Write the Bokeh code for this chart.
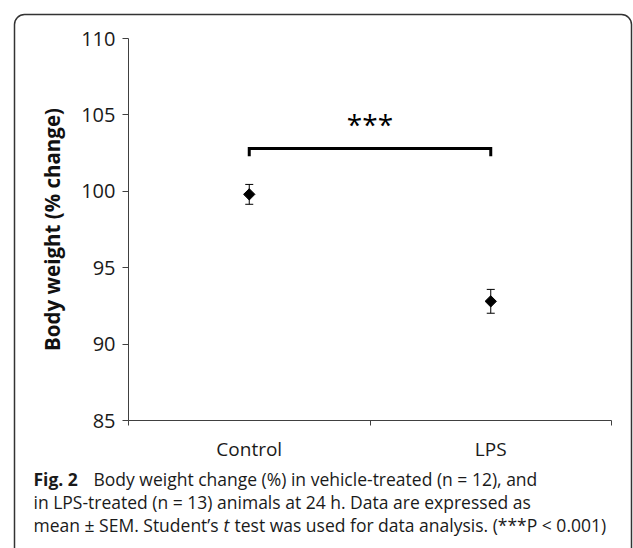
from math import pi
from bokeh.plotting import figure
from bokeh.models import (Range1d, FixedTicker, Whisker, ColumnDataSource, Label,
                          BoxAnnotation, LinearAxis)
from bokeh.core.properties import value
from bokeh.embed import file_html
from bokeh.resources import INLINE

# ---- data ----
categories = ["Control", "LPS"]
mean_change = [99.8, 92.8]
sem = [0.65, 0.78]
y_ticks = [85, 90, 95, 100, 105, 110]
bracket_low = 102.3
bracket_high = 102.8
star_level = 104.4
significance = "***"

x_pos = [i + 0.5 for i in range(len(categories))]
x_bounds = [i for i in range(len(categories) + 1)]
src = ColumnDataSource(dict(
    x=x_pos, y=mean_change,
    upper=[m + s for m, s in zip(mean_change, sem)],
    lower=[m - s for m, s in zip(mean_change, sem)],
    cat=categories,
))

# ---- layout (pixels on the canvas) ----
W, H = 633, 548
Y_TOP_PX, Y_BOT_PX = 38, 420      # where 110 and 85 sit
X_LEFT_PX, X_RIGHT_PX = 128, 611  # where the x axis starts and ends
ymin, ymax = y_ticks[0], y_ticks[-1]
ypp = (Y_BOT_PX - Y_TOP_PX) / (ymax - ymin)
xmin, xmax = x_bounds[0], x_bounds[-1]
xpp = (X_RIGHT_PX - X_LEFT_PX) / (xmax - xmin)

FONT = "Open Sans"
AX = "#404040"

p = figure(width=W, height=H, output_backend="svg", toolbar_location=None,
           x_axis_location=None, y_axis_location=None,
           x_range=Range1d(xmin - X_LEFT_PX / xpp, xmax + (W - X_RIGHT_PX) / xpp),
           y_range=Range1d(ymin - (H - Y_BOT_PX) / ypp, ymax + Y_TOP_PX / ypp),
           min_border=0)
p.grid.visible = False
p.outline_line_color = None
p.background_fill_color = "white"
p.border_fill_color = "white"

xa = LinearAxis(fixed_location=ymin, bounds=(xmin, xmax))
xa.ticker = FixedTicker(ticks=x_pos, minor_ticks=x_bounds)
xa.major_label_overrides = {x: c for x, c in zip(x_pos, categories)}
xa.major_tick_line_color = None
xa.major_tick_out = 5
xa.major_tick_in = 0
xa.minor_tick_out = 5
xa.minor_tick_in = 0
xa.minor_tick_line_color = AX
xa.axis_line_color = AX
xa.major_label_text_font = FONT
xa.major_label_text_font_size = "19px"
xa.major_label_text_color = "#1a1a1a"
xa.major_label_standoff = 10
p.add_layout(xa, "below")

ya = LinearAxis(fixed_location=xmin, bounds=(ymin, ymax))
ya.ticker = FixedTicker(ticks=y_ticks)
ya.minor_tick_line_color = None
ya.major_tick_out = 6
ya.major_tick_in = 0
ya.major_tick_line_color = AX
ya.axis_line_color = AX
ya.major_label_text_font = FONT
ya.major_label_text_font_size = "20px"
ya.major_label_text_color = "#1a1a1a"
ya.major_label_standoff = 7
ya.axis_label = "Body weight (% change)"
ya.axis_label_text_font = FONT
ya.axis_label_text_font_size = "20.5px"
ya.axis_label_text_font_style = "bold"
ya.axis_label_text_color = "#111111"
ya.axis_label_standoff = 12
p.add_layout(ya, "left")

w = Whisker(source=src, base="x", upper="upper", lower="lower",
            line_color="black", line_width=1)
w.upper_head.size = 8
w.lower_head.size = 8
w.upper_head.line_color = "black"
w.lower_head.line_color = "black"
p.add_layout(w)

p.scatter("x", "y", source=src, marker="square", angle=pi / 4, size=8,
          color="black")

p.line(x=[x_pos[0], x_pos[0], x_pos[1], x_pos[1]],
       y=[bracket_low, bracket_high, bracket_high, bracket_low],
       line_width=3, line_color="black", line_join="miter")

p.text(x=[sum(x_pos) / 2], y=[star_level], text=[significance],
       text_align="center", text_baseline="middle",
       text_font=value(FONT), text_font_size="28px", text_color="black")

# border box (screen units: y measured from the bottom)
p.add_layout(BoxAnnotation(left=14, right=631, top=H - 14, bottom=-40,
                           left_units="screen", right_units="screen",
                           top_units="screen", bottom_units="screen",
                           fill_color=None, fill_alpha=0,
                           line_color="#333333", line_alpha=1.0, line_width=1.5,
                           border_radius=10, level="overlay"))

# caption
CAP = 17.5
def cap(x, y_px, text, style="normal"):
    p.add_layout(Label(x=x, y=H - y_px, x_units="screen", y_units="screen", text=text,
                       text_font=FONT, text_font_size=f"{CAP}px", text_font_style=style,
                       text_color="#1a1a1a", text_baseline="middle", text_align="left"))

cap(33, 478, "Fig. 2", "bold")
cap(93, 478, "Body weight change (%) in vehicle-treated (n = 12), and")
cap(33, 501, "in LPS-treated (n = 13) animals at 24 h. Data are expressed as")
cap(33, 524, "mean ± SEM. Student’s")
cap(223, 524, "t", "italic")
cap(234, 524, "test was used for data analysis. (***P < 0.001)")

open("out.html", "w").write(file_html(p, INLINE))
